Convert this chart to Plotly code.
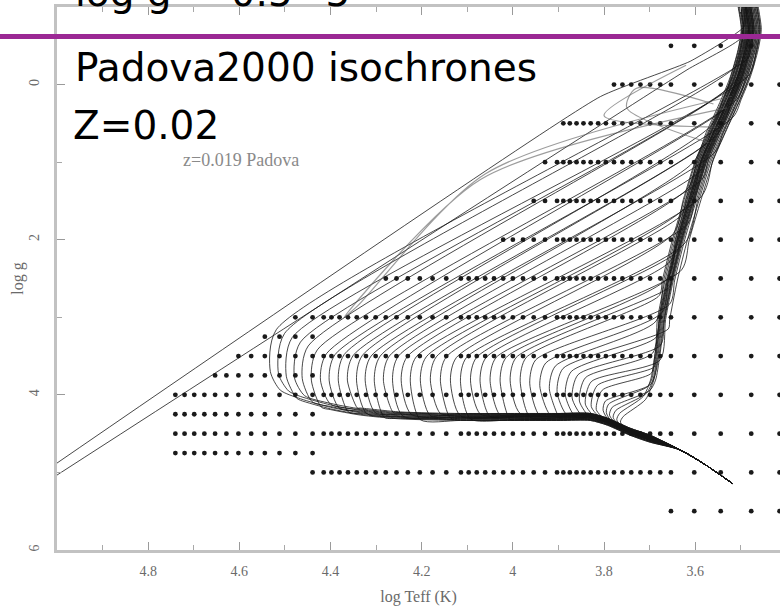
import math
import plotly.graph_objects as go

# ---------------- model-atmosphere grid (dots) ----------------
TEFF_COLUMNS = [2600, 3000, 3500, 4000,
                4500, 4750, 5000, 5250, 5500, 5750, 6000, 6250, 6500, 6750,
                7000, 7250, 7500, 7750, 8000,
                8500, 9000, 9500, 10000, 10500, 11000, 11500, 12000, 12500, 13000,
                14000, 15000, 16000, 17000, 18000, 19000, 20000, 21000, 22000,
                23000, 24000, 25000, 26000,
                27500, 30000, 32500, 35000, 37500, 40000, 42500, 45000, 47500,
                50000, 52500, 55000]
GRID_LOGG = [-0.5, 0.0, 0.5, 1.0, 1.5, 2.0, 2.5, 3.0, 3.25, 3.5, 3.75,
             4.0, 4.25, 4.5, 4.75, 5.0, 5.5]
GRID_TMIN = [3000, 2600, 2600, 2600, 2600, 2600, 2600, 2600, 27500, 2600, 27500,
             2600, 27500, 2600, 27500, 2600, 2600]
GRID_TMAX = [4500, 6000, 7750, 8500, 9000, 10500, 19000, 30000, 35000, 40000, 45000,
             55000, 55000, 55000, 55000, 27500, 4500]

# ---------------- isochrone tracks (log Teff, log g) ----------------
# shared lower main sequence (cool -> hot) and ZAMS band
LOWER_MS_T = [3.519, 3.578, 3.633, 3.699, 3.743, 3.793, 3.830]
LOWER_MS_G = [5.14, 4.90, 4.71, 4.58, 4.49, 4.36, 4.30]
ZAMS_T = [3.896, 3.984, 4.115, 4.247, 4.335, 4.400, 4.466, 4.521]
ZAMS_G = [4.30, 4.30, 4.30, 4.28, 4.23, 4.16, 4.05, 3.91]
# red giant branch (bottom -> top)
RGB_T = [3.692, 3.683, 3.672, 3.655, 3.633, 3.607, 3.580, 3.554, 3.521,
         3.501, 3.484, 3.477, 3.484, 3.490]
RGB_G = [3.81, 3.51, 3.03, 2.52, 2.00, 1.48, 0.97, 0.62, 0.19,
         -0.10, -0.45, -0.71, -1.01, -1.20]

# per-isochrone key points: departure from ZAMS, hottest turnoff point,
# terminal-age MS point, junction with the giant branch, giant-branch offset,
# and the small spread of the unevolved main sequence
DEP_T = [4.510, 4.492, 4.475, 4.457, 4.440, 4.420, 4.400, 4.381, 4.361, 4.341,
         4.321, 4.302, 4.282, 4.262, 4.242, 4.223, 4.203, 4.181, 4.159, 4.137,
         4.115, 4.093, 4.071, 4.050, 4.028, 4.006, 3.984, 3.962, 3.941, 3.919,
         3.898, 3.881, 3.863, 3.848, 3.832, 3.819, 3.806, 3.795,
         3.788, 3.780, 3.772, 3.764, 3.756, 3.748]
DEP_G = [3.94, 3.98, 4.02, 4.06, 4.10, 4.13, 4.16, 4.19, 4.21, 4.23,
         4.24, 4.26, 4.27, 4.28, 4.28, 4.29, 4.29, 4.29, 4.30, 4.30,
         4.30, 4.30, 4.30, 4.30, 4.30, 4.30, 4.30, 4.30, 4.30, 4.30,
         4.30, 4.30, 4.30, 4.30, 4.30, 4.31, 4.32, 4.34,
         4.35, 4.37, 4.40, 4.42, 4.45, 4.47]
TO_T = [4.532, 4.514, 4.497, 4.479, 4.462, 4.442, 4.422, 4.403, 4.383, 4.363,
        4.343, 4.324, 4.304, 4.284, 4.264, 4.245, 4.225, 4.203, 4.181, 4.159,
        4.137, 4.115, 4.093, 4.072, 4.050, 4.028, 4.006, 3.984, 3.963, 3.941,
        3.920, 3.903, 3.885, 3.870, 3.854, 3.841, 3.828, 3.817,
        3.802, 3.795, 3.788, 3.780, 3.772, 3.764]
TO_G = [3.70, 3.73, 3.76, 3.78, 3.79, 3.81, 3.81, 3.81, 3.81, 3.81,
        3.81, 3.81, 3.81, 3.81, 3.81, 3.81, 3.81, 3.81, 3.81, 3.81,
        3.81, 3.81, 3.81, 3.81, 3.81, 3.81, 3.81, 3.81, 3.85, 3.88,
        3.92, 3.96, 4.00, 4.04, 4.08, 4.12, 4.15, 4.19,
        4.20, 4.23, 4.26, 4.29, 4.32, 4.35]
TAMS_T = [4.519, 4.501, 4.484, 4.466, 4.449, 4.429, 4.409, 4.390, 4.370, 4.350,
          4.330, 4.311, 4.291, 4.271, 4.251, 4.232, 4.212, 4.190, 4.168, 4.146,
          4.124, 4.102, 4.080, 4.059, 4.037, 4.015, 3.993, 3.971, 3.950, 3.928,
          3.907, 3.890, 3.872, 3.857, 3.841, 3.828, 3.815, 3.804,
          3.797, 3.790, 3.782, 3.774, 3.766, 3.758]
TAMS_G = [3.16, 3.21, 3.26, 3.32, 3.37, 3.42, 3.47, 3.48, 3.48, 3.49,
          3.49, 3.50, 3.50, 3.50, 3.50, 3.51, 3.51, 3.51, 3.51, 3.51,
          3.52, 3.52, 3.52, 3.52, 3.52, 3.52, 3.52, 3.52, 3.55, 3.59,
          3.63, 3.66, 3.70, 3.74, 3.78, 3.83, 3.88, 3.94,
          4.08, 4.12, 4.16, 4.20, 4.24, 4.28]
JOIN_T = [3.490, 3.494, 3.499, 3.505, 3.512, 3.521, 3.529, 3.539, 3.547, 3.556,
          3.564, 3.573, 3.582, 3.588, 3.594, 3.599, 3.605, 3.611, 3.617, 3.623,
          3.629, 3.635, 3.640, 3.645, 3.650, 3.654, 3.658, 3.662, 3.666, 3.669,
          3.672, 3.675, 3.678, 3.680, 3.682, 3.684, 3.687, 3.690,
          3.700, 3.702, 3.704, 3.706, 3.708, 3.710]
JOIN_G = [-0.34, -0.24, -0.13, -0.03, 0.07, 0.19, 0.30, 0.42, 0.53, 0.65,
          0.76, 0.88, 1.00, 1.11, 1.22, 1.33, 1.44, 1.56, 1.68, 1.80,
          1.92, 2.04, 2.16, 2.28, 2.39, 2.50, 2.61, 2.72, 2.83, 2.94,
          3.05, 3.15, 3.26, 3.36, 3.46, 3.55, 3.64, 3.72,
          3.86, 3.90, 3.94, 3.98, 4.02, 4.06]
RGB_SHIFT = [-0.006, 0.016, -0.018, 0.009, 0.021, -0.012, 0.003, -0.022, 0.018, -0.003,
             0.012, -0.015, 0.022, 0.000, -0.009, 0.016, -0.019, 0.006, 0.013, -0.006,
             0.019, -0.013, 0.001, 0.010, -0.020, 0.007, -0.002, 0.017, -0.010, 0.004,
             0.014, -0.016, 0.008, -0.004, 0.011, -0.007, 0.003, 0.006,
             -0.003, 0.004, -0.005, 0.001, 0.006, -0.001]
MS_SPREAD = [0.00, 0.03, -0.02, 0.05, 0.01, -0.03, 0.04, 0.02, -0.01, 0.06,
             0.00, 0.03, -0.02, 0.05, 0.01, 0.04, -0.03, 0.02, 0.06, 0.00,
             0.03, -0.01, 0.05, 0.02, 0.04, -0.02, 0.06, 0.01, 0.03, 0.05,
             0.00, 0.04, 0.02, 0.03, 0.01, 0.02, 0.01, 0.00,
             0.01, 0.00, 0.02, 0.01, 0.00, 0.01]

# youngest isochrones, entering from the hot edge
YOUNG_A_T = [5.02, 3.808, 3.611, 3.492, 3.486]
YOUNG_A_G = [4.96, 0.155, -0.30, -0.75, -1.20]
YOUNG_B_T = [5.02, 3.618, 3.500, 3.488]
YOUNG_B_G = [5.11, -0.19, -0.60, -1.20]

# core helium-burning loops
LOOPS_T = [[3.530, 4.070, 4.370, 4.340, 4.060, 3.520],
           [3.550, 3.800, 3.620],
           [3.570, 3.750, 3.730, 3.560]]
LOOPS_G = [[0.30, 1.22, 3.00, 2.85, 1.15, 0.15],
           [0.55, 0.40, -0.25],
           [0.75, 0.30, 0.05, 0.25]]

LINE_COLOR = "rgba(20,20,20,0.78)"
LINE_W = 1.0

fig = go.Figure()

# grid points
gx, gy = [], []
for g, tmin, tmax in zip(GRID_LOGG, GRID_TMIN, GRID_TMAX):
    for t in TEFF_COLUMNS:
        if tmin <= t <= tmax:
            gx.append(math.log10(t))
            gy.append(g)
fig.add_trace(go.Scatter(
    x=gx, y=gy, mode="markers",
    marker=dict(size=4.8, color="#1a1a1a", line=dict(width=0)),
    hoverinfo="skip", showlegend=False))

# isochrones: unevolved MS -> turnoff arc -> Hertzsprung gap -> giant branch
MS_T = LOWER_MS_T + ZAMS_T
MS_G = LOWER_MS_G + ZAMS_G
for i in range(len(DEP_T)):
    xs, ys = [], []
    for k, (t, g) in enumerate(zip(MS_T, MS_G)):
        if t < DEP_T[i]:
            xs.append(t)
            ys.append(g if k < 3 else g - MS_SPREAD[i])
    xs += [DEP_T[i], TO_T[i], TAMS_T[i], JOIN_T[i] + RGB_SHIFT[i]]
    ys += [DEP_G[i] - MS_SPREAD[i], TO_G[i], TAMS_G[i], JOIN_G[i]]
    for t, g in zip(RGB_T, RGB_G):
        if g < JOIN_G[i] - 0.08:
            xs.append(t + RGB_SHIFT[i])
            ys.append(g)
    fig.add_trace(go.Scatter(
        x=xs, y=ys, mode="lines",
        line=dict(color=LINE_COLOR, width=LINE_W, shape="spline", smoothing=0.7),
        hoverinfo="skip", showlegend=False))

for xs, ys in [(YOUNG_A_T, YOUNG_A_G), (YOUNG_B_T, YOUNG_B_G)]:
    fig.add_trace(go.Scatter(
        x=xs, y=ys, mode="lines",
        line=dict(color=LINE_COLOR, width=LINE_W, shape="spline", smoothing=0.4),
        hoverinfo="skip", showlegend=False))

for xs, ys in zip(LOOPS_T, LOOPS_G):
    fig.add_trace(go.Scatter(
        x=xs, y=ys, mode="lines",
        line=dict(color="rgba(90,90,90,0.6)", width=1.2, shape="spline", smoothing=0.8),
        hoverinfo="skip", showlegend=False))

AXIS_GRAY = "#c2c2c2"
TICK_FONT = dict(family="Liberation Serif", size=14, color="#6a6a6a")

fig.update_xaxes(
    range=[5.0, 3.414], autorange=False,
    tickvals=[4.8, 4.6, 4.4, 4.2, 4.0, 3.8, 3.6],
    ticktext=["4.8", "4.6", "4.4", "4.2", "4", "3.8", "3.6"],
    ticks="inside", ticklen=8, tickwidth=1.2, tickcolor="#9a9a9a",
    minor=dict(tick0=3.5, dtick=0.1, ticks="inside", ticklen=5, tickcolor="#a8a8a8"),
    showline=True, linecolor=AXIS_GRAY, linewidth=2.5, mirror="ticks",
    showgrid=False, zeroline=False, tickfont=TICK_FONT, ticklabelstandoff=6,
    title=dict(text="log Teff (K)", font=dict(family="Liberation Serif", size=16, color="#6a6a6a"),
               standoff=14))
fig.update_yaxes(
    range=[6.0, -1.0], autorange=False,
    tickvals=[0, 2, 4, 6], ticktext=["0", "2", "4", "6"], tickangle=-90,
    ticks="inside", ticklen=8, tickwidth=1.2, tickcolor="#9a9a9a",
    minor=dict(tick0=0, dtick=1, ticks="inside", ticklen=5, tickcolor="#a8a8a8"),
    showline=True, linecolor=AXIS_GRAY, linewidth=2.5, mirror=False,
    showgrid=False, zeroline=False, tickfont=TICK_FONT, ticklabelstandoff=10,
    title=dict(text="log g", font=dict(family="Liberation Serif", size=16, color="#6a6a6a"),
               standoff=0))

SLIDE_FONT = dict(family="DejaVu Sans", size=39, color="black")
fig.update_layout(
    width=780, height=611, autosize=False,
    margin=dict(l=57, r=0, t=7, b=61),
    paper_bgcolor="white", plot_bgcolor="white",
    shapes=[dict(type="line", xref="paper", yref="paper",
                 x0=-0.08, x1=1.0, y0=0.9457, y1=0.9457,
                 line=dict(color="#9b2894", width=5), layer="above")],
    annotations=[
        dict(text="log g= -0.5~5", xref="paper", yref="paper", x=0.022, y=1.0267,
             xanchor="left", yanchor="middle", showarrow=False, font=SLIDE_FONT),
        dict(text="Padova2000 isochrones", xref="paper", yref="paper", x=0.022, y=0.8886,
             xanchor="left", yanchor="middle", showarrow=False, font=SLIDE_FONT),
        dict(text="Z=0.02", xref="paper", yref="paper", x=0.020, y=0.7818,
             xanchor="left", yanchor="middle", showarrow=False, font=SLIDE_FONT),
        dict(text="z=0.019 Padova", xref="paper", yref="paper", x=0.2545, y=0.718,
             xanchor="center", yanchor="middle", showarrow=False,
             font=dict(family="Liberation Serif", size=18, color="#8a8a8a")),
    ],
)

fig.write_html("out.html")
